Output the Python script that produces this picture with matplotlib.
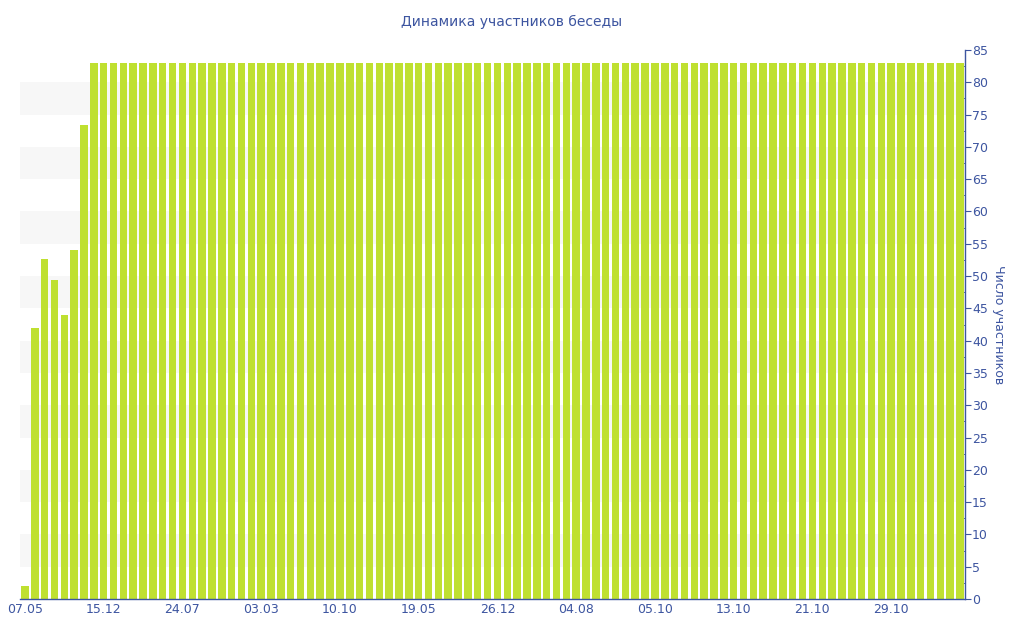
import numpy as np
from matplotlib import pyplot as plt
from matplotlib.ticker import MultipleLocator

plt.rcParams['font.family'] = 'DejaVu Sans'

blue = '#3d55a0'
green = '#bfe030'

# participants per period (96 bars)
values = [2, 42, 52.6, 49.4, 44, 54, 73.4] + [83] * 89
tick_labels = ['07.05', '15.12', '24.07', '03.03', '10.10', '19.05',
               '26.12', '04.08', '05.10', '13.10', '21.10', '29.10']
tick_pos = list(range(0, 96, 8))

fig = plt.figure(figsize=(10.24, 6.4), dpi=100)
ax = fig.add_axes([20 / 1024, 41 / 640, 945 / 1024, 549 / 640])

# alternating background bands
for lo in range(5, 85, 10):
    ax.axhspan(lo, lo + 5, color='#f7f7f7', zorder=0, lw=0)

x = np.arange(len(values))
ax.bar(x, values, width=0.76, color=green, zorder=2)

ax.set_xlim(-0.5, len(values) - 0.5)
ax.set_ylim(0, 85)

ax.yaxis.tick_right()
ax.yaxis.set_label_position('right')
ax.yaxis.set_major_locator(MultipleLocator(5))
ax.yaxis.set_minor_locator(MultipleLocator(2.5))
ax.set_xticks(tick_pos)
ax.set_xticklabels(tick_labels)

for s in ['top', 'left']:
    ax.spines[s].set_visible(False)
for s in ['right', 'bottom']:
    ax.spines[s].set_color(blue)
    ax.spines[s].set_linewidth(1.0)

ax.tick_params(axis='y', which='major', direction='out', length=4, colors=blue,
               labelsize=9, pad=1)
ax.tick_params(axis='y', which='minor', direction='in', length=2.5, colors=blue)
ax.tick_params(axis='x', direction='in', length=4, colors=blue, labelsize=9, pad=3)

ax.set_ylabel('Число участников', color=blue, fontsize=9, rotation=-90, labelpad=12)
fig.text(0.5, 1 - 22 / 640, 'Динамика участников беседы', color=blue,
         fontsize=10, ha='center', va='center')

fig.savefig('out.png', dpi=100)
